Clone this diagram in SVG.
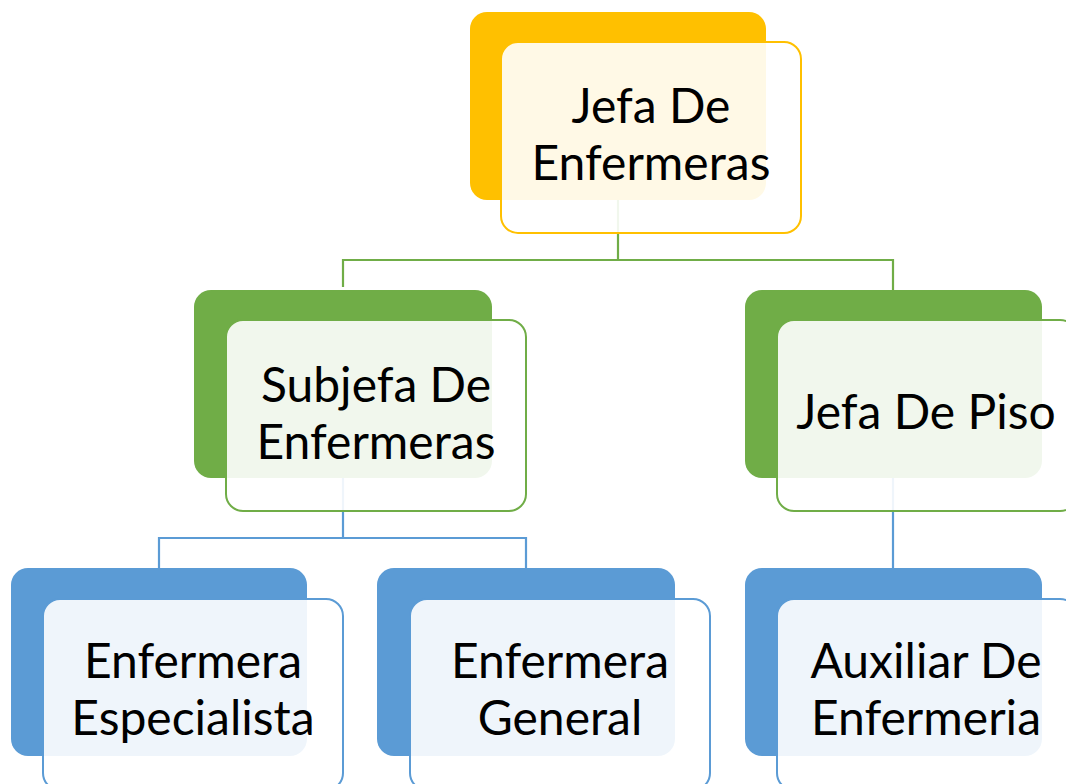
<svg xmlns="http://www.w3.org/2000/svg" width="1066" height="784" viewBox="0 0 1066 784">
<style>
.lbl{font-family:Lato,"Liberation Sans",sans-serif;font-size:48px;fill:#000;text-anchor:middle}
.front{fill:#fff;fill-opacity:0.9;stroke-width:2}
.g{stroke:#70AD47}
.b{stroke:#5B9BD5}
.y{stroke:#FFC000}
.conn{fill:none;stroke-width:2.2}
</style>
<rect width="1066" height="784" fill="#fff"/>
<g id="connectors">
<path class="conn g" d="M618 200 V260 M343 287 V260 H893 V290"/>
<path class="conn b" d="M343 478 V538 M159 568 V538 H526 V568"/>
<path class="conn b" d="M893 478 V568"/>
</g>
<g id="jefa-enfermeras">
<rect x="470" y="12" width="296" height="188" rx="17" fill="#FFC000"/>
<rect class="front y" x="501" y="42" width="300" height="191" rx="17"/>
<text class="lbl" x="651" y="123">Jefa De</text>
<text class="lbl" x="651" y="180">Enfermeras</text>
</g>
<g id="subjefa">
<rect x="194" y="290" width="298" height="188" rx="17" fill="#70AD47"/>
<rect class="front g" x="226" y="320" width="300" height="191" rx="17"/>
<text class="lbl" x="376" y="402">Subjefa De</text>
<text class="lbl" x="376" y="459">Enfermeras</text>
</g>
<g id="jefa-piso">
<rect x="745" y="290" width="297" height="188" rx="17" fill="#70AD47"/>
<rect class="front g" x="777" y="320" width="300" height="191" rx="17"/>
<text class="lbl" x="926" y="429">Jefa De Piso</text>
</g>
<g id="especialista">
<rect x="11" y="568" width="296" height="188" rx="17" fill="#5B9BD5"/>
<rect class="front b" x="43" y="599" width="300" height="191" rx="17"/>
<text class="lbl" x="193" y="678">Enfermera</text>
<text class="lbl" x="193" y="735">Especialista</text>
</g>
<g id="general">
<rect x="377" y="568" width="298" height="188" rx="17" fill="#5B9BD5"/>
<rect class="front b" x="410" y="599" width="300" height="191" rx="17"/>
<text class="lbl" x="560" y="678">Enfermera</text>
<text class="lbl" x="560" y="735">General</text>
</g>
<g id="auxiliar">
<rect x="745" y="568" width="297" height="188" rx="17" fill="#5B9BD5"/>
<rect class="front b" x="777" y="599" width="300" height="191" rx="17"/>
<text class="lbl" x="926" y="678">Auxiliar De</text>
<text class="lbl" x="926" y="735">Enfermeria</text>
</g>
</svg>
